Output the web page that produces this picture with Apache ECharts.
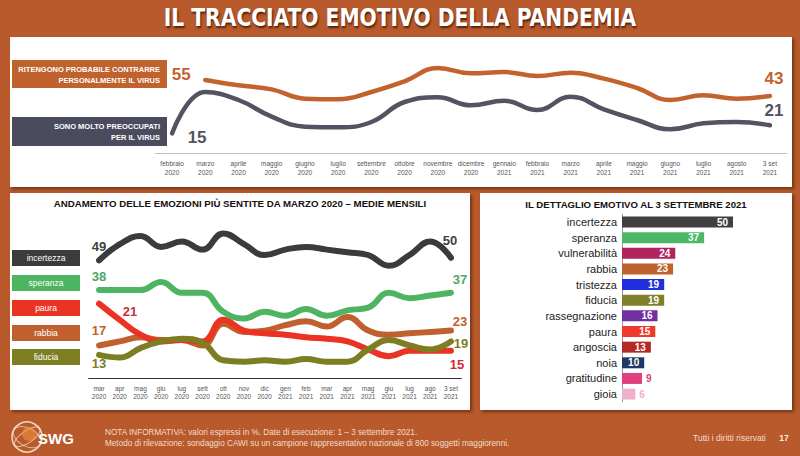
<!DOCTYPE html>
<html><head><meta charset="utf-8">
<script src="https://cdn.jsdelivr.net/npm/echarts@6/dist/echarts.min.js"></script>
<style>
html,body{margin:0;padding:0;width:800px;height:456px;overflow:hidden;background:#B85A2C;}
.panel{position:absolute;background:#fff;box-shadow:2px 2px 3px rgba(70,25,0,0.6);}
#title{position:absolute;left:0;top:4px;width:800px;text-align:center;color:#fff;font-family:"Liberation Sans Narrow","DejaVu Sans Condensed",sans-serif;font-weight:bold;font-size:25px;line-height:28px;text-shadow:1px 2px 2px rgba(60,20,0,0.8);transform:scaleX(0.9);transform-origin:400px 0;}
#chart{position:absolute;left:0;top:0;width:800px;height:456px;}
</style></head><body>
<div class="panel" style="left:10px;top:37px;width:782px;height:150px"></div>
<div class="panel" style="left:10px;top:193px;width:460px;height:217px"></div>
<div class="panel" style="left:480px;top:193px;width:312px;height:217px"></div>
<div id="title">IL TRACCIATO EMOTIVO DELLA PANDEMIA</div>
<div id="chart"></div>
<script>
// ---- top chart data ----
const topMonths = ['febbraio\n2020','marzo\n2020','aprile\n2020','maggio\n2020','giugno\n2020','luglio\n2020','settembre\n2020','ottobre\n2020','novembre\n2020','dicembre\n2020','gennaio\n2021','febbraio\n2021','marzo\n2021','aprile\n2021','maggio\n2021','giugno\n2021','luglio\n2021','agosto\n2021','3 set\n2021'];
const probabileContrarre = [null,55,51,48,41,40.5,46,54,64,60,61,58,60.5,56,49,40,43.5,41,43];
const moltoPreoccupati = [15,46,40,27.5,20,19.5,23.5,38.5,42,36,39.5,32.5,42.5,33,25,18,22.5,23.5,21];

// ---- bottom-left chart data ----
const emoMonths = ['mar\n2020','apr\n2020','mag\n2020','giu\n2020','lug\n2020','sett\n2020','ott\n2020','nov\n2020','dic\n2020','gen\n2021','feb\n2021','mar\n2021','apr\n2021','mag\n2021','giu\n2021','lug\n2021','ago\n2021','3 set\n2021'];
const incertezza = [49,55,58,54,56,53,59,55,51,53,54,53,52,51,47,51,56,50];
const speranza   = [38,38,38,41,37,37,30,27.5,30,28.5,31,28.5,30.5,31.5,37,35,36,37];
const paura      = [33,27,21.5,19,19.5,19,27,23,22,21.5,20.5,20,19,16,13.5,15.5,15.5,15.5];
const rabbia     = [17.5,19,20.5,19.5,19.5,17.5,25.5,22.5,23,25,26.5,24.5,28,23,21.5,22,22.5,23];
const fiducia    = [14,13,16.5,19,20,18.5,12,11.5,12,11.5,12.5,11.5,11.5,16,19.5,17.5,16,19];
const firstLabels = {incertezza:'49', speranza:'38', paura:'21', rabbia:'17', fiducia:'13'};
const lastLabels  = {incertezza:'50', speranza:'37', paura:'15', rabbia:'23', fiducia:'19'};

// ---- bar chart data ----
const barCats = ['incertezza','speranza','vulnerabilità','rabbia','tristezza','fiducia','rassegnazione','paura','angoscia','noia','gratitudine','gioia'];
const barValues = [50,37,24,23,19,19,16,15,13,10,9,6];

// ---- styles ----
const barColors = ['#404040','#4CB866','#B0245E','#C0622E','#1F2FE0','#7F7F2A','#7030A0','#EE3B2E','#B22A22','#1F3864','#E0407E','#F0B0CC'];
const C = {orange:'#C4622D', slate:'#535361', inc:'#3B3B3B', spe:'#4DB562', pau:'#EA3323', rab:'#C0602F', fid:'#7D7D22'};
const FONT = '"Liberation Sans", Arial, sans-serif';

const chart = echarts.init(document.getElementById('chart'), null, {renderer: 'svg'});

function lineSeries(name, data, color, width, gi) {
  return {name, type: 'line', xAxisIndex: gi, yAxisIndex: gi, data, smooth: 0.45, symbol: 'none',
    showSymbol: false, lineStyle: {color, width, cap: 'round'}, itemStyle: {color}, emphasis: {disabled: true}};
}

const series = [
  lineSeries('Ritengono probabile', probabileContrarre, C.orange, 4.5, 0),
  lineSeries('Molto preoccupati', moltoPreoccupati, C.slate, 4.5, 0),
  lineSeries('rabbia', rabbia, C.rab, 6, 1),
  lineSeries('paura', paura, C.pau, 6, 1),
  lineSeries('fiducia', fiducia, C.fid, 6, 1),
  lineSeries('speranza', speranza, C.spe, 6, 1),
  lineSeries('incertezza', incertezza, C.inc, 6, 1),
  {type: 'bar', xAxisIndex: 2, yAxisIndex: 2, barWidth: 11, emphasis: {disabled: true},
    data: barValues.map((v, i) => ({value: v, itemStyle: {color: barColors[i]},
      label: i >= 10 ? {show: true, position: 'right', distance: 4, color: barColors[i], fontWeight: 'bold', fontSize: 10, fontFamily: FONT}
                     : {show: true, position: 'insideRight', distance: 5, color: '#fff', fontWeight: 'bold', fontSize: 10, fontFamily: FONT}}))}
];

const xLabel = {color: '#555', fontSize: 6.5, lineHeight: 8.5, fontFamily: FONT, margin: 6, interval: 0};

chart.setOption({
  animation: false,
  textStyle: {fontFamily: FONT},
  grid: [
    {left: 155.5, top: 46.7, width: 631, height: 106.6},
    {left: 88.7, top: 215.85, width: 372.6, height: 162},
    {left: 622, top: 214.2, width: 155.4, height: 187.7}
  ],
  xAxis: [
    {gridIndex: 0, type: 'category', data: topMonths, boundaryGap: true, axisTick: {show: false}, axisLine: {lineStyle: {color: '#bdbdbd', width: 1}}, axisLabel: xLabel},
    {gridIndex: 1, type: 'category', data: emoMonths, boundaryGap: true, axisTick: {show: false}, axisLine: {lineStyle: {color: '#333', width: 1.2}}, axisLabel: xLabel},
    {gridIndex: 2, type: 'value', min: 0, max: 70, show: false}
  ],
  yAxis: [
    {gridIndex: 0, type: 'value', min: 0, max: 80, show: false},
    {gridIndex: 1, type: 'value', min: 5.5, max: 65.5, show: false},
    {gridIndex: 2, type: 'category', data: barCats, inverse: true, axisTick: {show: false},
      axisLine: {lineStyle: {color: '#999'}}, axisLabel: {color: '#222', fontSize: 11, margin: 5, fontFamily: FONT}}
  ],
  series
});

// ---- value labels placed through the chart's own scales ----
const graphic = [];
function endLabel(gi, arr, which, text, color, off, size) {
  const idx = which === 'first' ? arr.findIndex(v => v != null) : arr.length - 1;
  const p = chart.convertToPixel({gridIndex: gi}, [idx, arr[idx]]);
  graphic.push({type: 'text', style: {x: p[0] + off[0], y: p[1] + off[1], text, fill: color,
    font: 'bold ' + size + 'px ' + FONT, align: 'center', verticalAlign: 'middle'}});
}
endLabel(0, probabileContrarre, 'first', '55', C.orange, [-24, -6], 17);
endLabel(0, probabileContrarre, 'last', '43', C.orange, [4, -18], 17);
endLabel(0, moltoPreoccupati, 'first', '15', C.slate, [25, 4], 17);
endLabel(0, moltoPreoccupati, 'last', '21', C.slate, [4, -15], 17);
const S = 13;
endLabel(1, incertezza, 'first', firstLabels.incertezza, '#404040', [0, -14], S);
endLabel(1, incertezza, 'last', lastLabels.incertezza, '#404040', [-1, -17], S);
endLabel(1, speranza, 'first', firstLabels.speranza, '#4CA86A', [0, -14], S);
endLabel(1, speranza, 'last', lastLabels.speranza, '#4CA86A', [9, -13], S);
endLabel(1, paura, 'first', firstLabels.paura, '#C8303E', [31, 8], S);
endLabel(1, paura, 'last', lastLabels.paura, '#D02A3A', [6, 14], S);
endLabel(1, rabbia, 'first', firstLabels.rabbia, C.rab, [0, -15], S);
endLabel(1, rabbia, 'last', lastLabels.rabbia, C.rab, [9, -9], S);
endLabel(1, fiducia, 'first', firstLabels.fiducia, C.fid, [0, 9], S);
endLabel(1, fiducia, 'last', lastLabels.fiducia, C.fid, [10, 2], S);

const legendItems = [['incertezza', C.inc, 250], ['speranza', C.spe, 275], ['paura', C.pau, 300], ['rabbia', C.rab, 325], ['fiducia', C.fid, 349]];
graphic.push(
  {type: 'rect', shape: {x: 12, y: 60, width: 155, height: 28}, style: {fill: '#C0622E'}},
  {type: 'text', style: {x: 160, y: 69, text: 'RITENGONO PROBABILE CONTRARRE', fill: '#fff', font: 'bold 7.5px ' + FONT, align: 'right', verticalAlign: 'middle'}},
  {type: 'text', style: {x: 160, y: 80, text: 'PERSONALMENTE IL VIRUS', fill: '#fff', font: 'bold 7.5px ' + FONT, align: 'right', verticalAlign: 'middle'}},
  {type: 'rect', shape: {x: 12, y: 117, width: 155, height: 29}, style: {fill: '#4B4B5E'}},
  {type: 'text', style: {x: 160, y: 126, text: 'SONO MOLTO PREOCCUPATI', fill: '#fff', font: 'bold 7.5px ' + FONT, align: 'right', verticalAlign: 'middle'}},
  {type: 'text', style: {x: 160, y: 137, text: 'PER IL VIRUS', fill: '#fff', font: 'bold 7.5px ' + FONT, align: 'right', verticalAlign: 'middle'}},
  {type: 'text', style: {x: 240, y: 203, text: 'ANDAMENTO DELLE EMOZIONI PIÙ SENTITE DA MARZO 2020 – MEDIE MENSILI', fill: '#111', font: 'bold 9.7px ' + FONT, align: 'center', verticalAlign: 'middle'}},
  {type: 'text', style: {x: 636, y: 204, text: 'IL DETTAGLIO EMOTIVO AL 3 SETTEMBRE 2021', fill: '#111', font: 'bold 9.6px ' + FONT, align: 'center', verticalAlign: 'middle'}},
  // footer
  {type: 'text', style: {x: 105, y: 432, text: 'NOTA INFORMATIVA: valori espressi in %. Date di esecuzione: 1 – 3 settembre 2021.', fill: '#F3DCCB', font: '8.2px "Liberation Sans Narrow", ' + FONT, verticalAlign: 'middle'}},
  {type: 'text', style: {x: 105, y: 443, text: 'Metodo di rilevazione: sondaggio CAWI su un campione rappresentativo nazionale di 800 soggetti maggiorenni.', fill: '#F3DCCB', font: '8.2px "Liberation Sans Narrow", ' + FONT, verticalAlign: 'middle'}},
  {type: 'text', style: {x: 766, y: 438, text: 'Tutti i diritti riservati', fill: '#F3DCCB', font: '8.5px "Liberation Sans Narrow", ' + FONT, align: 'right', verticalAlign: 'middle'}},
  {type: 'text', style: {x: 784, y: 438, text: '17', fill: '#FBE9DC', font: 'bold 8.5px ' + FONT, align: 'center', verticalAlign: 'middle'}},
  // logo
  {type: 'circle', shape: {cx: 27, cy: 437, r: 15}, style: {fill: 'none', stroke: 'rgba(255,235,215,0.85)', lineWidth: 1.5}},
  {type: 'ellipse', shape: {cx: 27, cy: 437, rx: 15, ry: 6}, rotation: 0.6, originX: 27, originY: 437, style: {fill: 'none', stroke: 'rgba(255,235,215,0.7)', lineWidth: 1}},
  {type: 'ellipse', shape: {cx: 27, cy: 437, rx: 15, ry: 9}, rotation: -0.5, originX: 27, originY: 437, style: {fill: 'none', stroke: 'rgba(255,235,215,0.6)', lineWidth: 1}},
  {type: 'circle', shape: {cx: 29, cy: 434, r: 7}, style: {fill: 'rgba(240,150,60,0.55)'}},
  {type: 'text', style: {x: 38, y: 438, text: 'SWG', fill: '#fff', font: 'bold 15px ' + FONT, verticalAlign: 'middle'}}
);
legendItems.forEach(([t, c, y]) => {
  graphic.push({type: 'rect', shape: {x: 12, y, width: 68, height: 16}, style: {fill: c}});
  graphic.push({type: 'text', style: {x: 46, y: y + 8, text: t, fill: '#fff', font: '8.5px ' + FONT, align: 'center', verticalAlign: 'middle'}});
});
chart.setOption({graphic: {elements: graphic}});
</script>
</body></html>
